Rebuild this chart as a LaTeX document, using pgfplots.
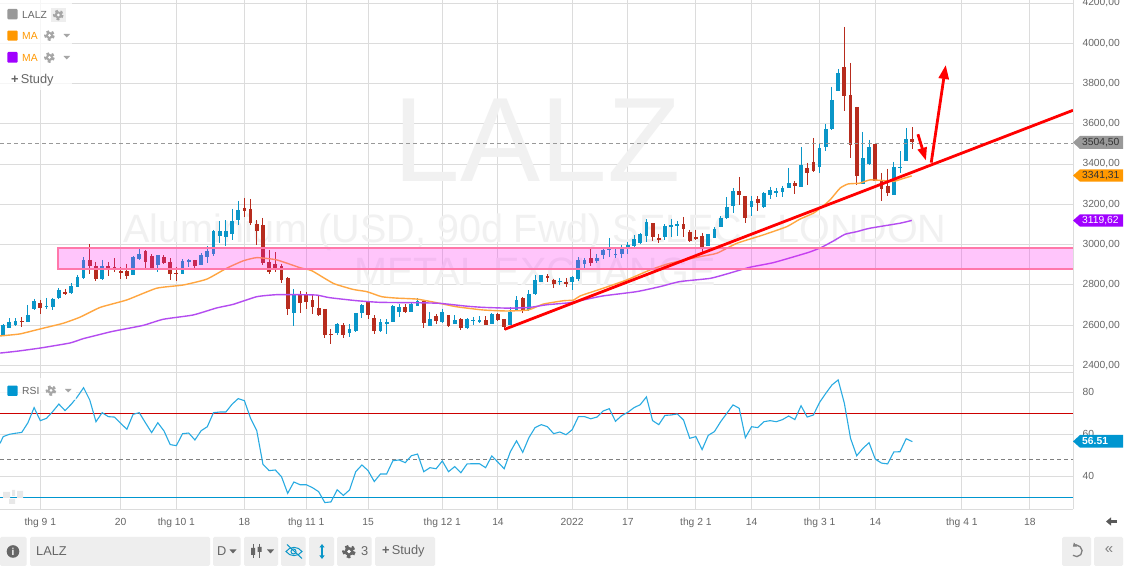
\documentclass[border=0pt]{standalone}
\usepackage{fontspec}
\setmainfont{Liberation Sans}
\usepackage{pgfplots}
\pgfplotsset{compat=1.18}
\usepackage{pgfplotstable}
\usetikzlibrary{arrows.meta}

\definecolor{gridc}{HTML}{DCDCDC}
\definecolor{txtc}{HTML}{666666}
\definecolor{upc}{HTML}{0A96C8}
\definecolor{downc}{HTML}{B72C1E}
\definecolor{maor}{HTML}{FFA640}
\definecolor{mapu}{HTML}{B44CF0}
\definecolor{boxc}{HTML}{EEEEEE}
\definecolor{rsic}{HTML}{29ABE2}
\definecolor{wmark}{HTML}{F1F1F1}
\definecolor{tagor}{HTML}{FF9800}
\definecolor{tagpu}{HTML}{A000FF}
\definecolor{tagbl}{HTML}{0096D0}
\definecolor{bandf}{HTML}{FF1BF3}
\definecolor{bandl}{HTML}{FF78AA}
\definecolor{rsired}{HTML}{CC0000}

\newcommand\fs[1]{\fontsize{#1}{#1}\selectfont}

% rising days (blue)
\pgfplotstableread{
i o h l c
-6 2549 2606 2549 2599
-5 2586 2635 2586 2616
-4 2599 2635 2596 2621
-2 2616 2700 2616 2650
-1 2680 2730 2675 2720
1 2690 2735 2680 2695
2 2690 2735 2675 2730
3 2735 2784 2730 2775
5 2760 2809 2755 2794
6 2789 2849 2789 2839
7 2834 2938 2829 2924
10 2829 2924 2824 2894
15 2849 2943 2849 2938
16 2928 2978 2924 2953
19 2899 2948 2864 2948
23 2854 2928 2854 2919
24 2914 2928 2889 2924
26 2899 2958 2899 2948
27 2938 2993 2909 2968
28 2953 3073 2943 3068
29 3043 3117 3008 3068
30 3038 3122 2993 3068
31 3053 3177 3023 3117
32 3122 3217 3097 3172
41 2660 2779 2595 2749
48 2560 2610 2550 2605
50 2560 2605 2540 2580
51 2570 2660 2565 2660
52 2660 2704 2635 2699
55 2570 2630 2565 2615
56 2605 2630 2555 2615
57 2615 2699 2615 2694
58 2665 2704 2640 2689
60 2665 2709 2665 2704
61 2694 2734 2694 2719
63 2595 2665 2595 2630
65 2615 2680 2610 2665
67 2605 2650 2605 2625
69 2585 2635 2580 2630
70 2620 2640 2600 2625
71 2615 2645 2610 2625
73 2605 2660 2605 2655
76 2600 2689 2600 2665
77 2670 2744 2670 2724
79 2675 2774 2670 2754
80 2754 2848 2749 2824
81 2814 2848 2814 2848
84 2814 2834 2799 2819
86 2814 2843 2774 2838
87 2829 2938 2819 2924
88 2904 2933 2874 2924
90 2919 2953 2909 2933
91 2948 2983 2928 2973
92 2973 3033 2938 2983
93 2948 2978 2933 2953
94 2953 2998 2933 2978
95 2986 3013 2953 2998
96 2993 3048 2983 3028
97 3008 3058 3003 3053
98 3043 3127 3013 3112
101 3038 3102 3023 3092
102 3087 3127 3038 3097
103 3092 3117 3043 3102
108 2993 3053 2993 3053
109 3033 3087 3033 3078
110 3087 3142 3087 3132
111 3132 3236 3127 3187
112 3192 3281 3157 3266
115 3187 3241 3142 3217
117 3187 3261 3182 3256
118 3246 3286 3227 3271
119 3256 3281 3236 3266
120 3261 3291 3236 3281
121 3281 3381 3281 3306
123 3286 3485 3286 3396
126 3386 3500 3356 3480
127 3485 3599 3465 3574
128 3574 3783 3570 3719
129 3763 3873 3763 3853
133 3301 3560 3301 3430
134 3401 3520 3396 3485
138 3247 3411 3247 3386
139 3380 3465 3356 3386
140 3415 3579 3415 3525
}\upbars

% falling days (red)
\pgfplotstableread{
i o h l c
-3 2620 2640 2591 2615
0 2710 2725 2655 2685
4 2765 2780 2750 2755
8 2924 3003 2854 2894
9 2894 2914 2819 2829
11 2894 2914 2844 2874
12 2889 2933 2864 2884
13 2869 2889 2829 2859
14 2869 2904 2829 2844
17 2968 2973 2874 2914
18 2943 2953 2879 2879
20 2938 2948 2904 2909
21 2914 2933 2824 2854
22 2860 2889 2819 2855
25 2924 2924 2874 2894
33 3182 3232 3137 3167
34 3177 3227 3097 3107
35 3102 3122 2998 3068
36 3097 3132 2899 2909
37 2914 2973 2854 2864
38 2904 2963 2864 2874
39 2894 2904 2809 2824
40 2834 2838 2650 2680
42 2749 2769 2660 2709
43 2749 2764 2680 2714
44 2724 2749 2655 2689
45 2684 2744 2645 2650
46 2680 2680 2535 2550
47 2555 2580 2506 2550
49 2600 2610 2535 2550
53 2714 2714 2630 2650
54 2635 2650 2555 2570
59 2689 2704 2660 2665
62 2719 2724 2585 2610
64 2645 2655 2605 2620
66 2650 2650 2590 2595
68 2630 2635 2575 2585
72 2625 2645 2600 2600
74 2655 2660 2620 2625
75 2630 2630 2575 2590
78 2734 2739 2660 2670
82 2843 2853 2814 2834
83 2824 2829 2784 2804
85 2814 2834 2789 2804
89 2933 2983 2894 2909
99 3107 3107 3018 3038
100 3033 3053 3008 3023
104 3102 3137 3038 3078
105 3063 3073 3013 3018
106 3038 3073 3023 3028
107 3043 3058 2963 2983
113 3266 3336 3197 3246
114 3241 3241 3107 3132
116 3227 3241 3167 3207
122 3306 3316 3251 3291
124 3381 3406 3296 3356
125 3411 3530 3361 3366
130 3883 4081 3664 3738
131 3743 3902 3430 3495
132 3684 3684 3296 3341
135 3500 3500 3316 3316
136 3316 3356 3217 3276
137 3291 3376 3242 3257
141 3525 3584 3475 3510
}\downbars

\pgfplotsset{
  pane/.style={
    at={(0pt,192pt)}, anchor=south west, scale only axis,
    width=1073pt, xmin=-6.516, xmax=166.97,
    xtick={0,13,22,33,43,53,65,74,86,95,106,115,126,135,149,160},
    grid=major, grid style={gridc, line width=1pt},
    major tick length=0pt,
    axis line style={draw=none},
    yticklabel pos=right,
    tick label style={text=txtc, font=\fs{10.3}},
    /pgf/number format/assume math mode=true,
  },
  wick/.style={draw=none, mark=none, forget plot,
    error bars/.cd, y dir=minus, y explicit, error mark=none,
    error bar style={line width=1pt, #1}},
  body/.style={draw=none, mark=none, forget plot,
    error bars/.cd, y dir=minus, y explicit, error mark=none,
    error bar style={line width=3.8pt, #1}},
}

\newcommand\gear[4][txtc]{% x y radius
  \fill[#1] (#2,#3) circle (#4*0.72);
  \draw[#1, line width=#4*0.5pt, dash pattern=on #4*0.55pt off #4*0.5pt] (#2,#3) circle (#4*0.82);
  \fill[white] (#2,#3) circle (#4*0.3);
}

\begin{document}
\begin{tikzpicture}
\path[use as bounding box, fill=white] (0,0) rectangle (1125pt,567pt);

% ---------- price pane
\begin{axis}[pane, height=375pt, ymin=2352, ymax=4215,
    xticklabels={},
    ytick={2400,2600,2800,3000,3200,3400,3600,3800,4000,4200},
    /pgf/number format/.cd, fixed, fixed zerofill, precision=2, use comma, 1000 sep={},
    /pgfplots/.cd,
    yticklabel style={anchor=west, xshift=6pt},
  ]
\node[text=wmark, font=\fs{120}] at (axis description cs:0.5005,0.627) {LALZ};
\node[text=wmark, font=\fs{39.5}] at (axis description cs:0.4985,0.381) {Aluminium (USD, 90d Fwd) SELECT LONDON};
\node[text=wmark, font=\fs{39.5}] at (axis description cs:0.4985,0.275) {METAL EXCHANGE};

\addplot[wick=upc] table[x=i, y=h, y error minus expr=\thisrow{h}-\thisrow{l}] {\upbars};
\addplot[body=upc] table[x=i, y=c, y error minus expr=\thisrow{c}-\thisrow{o}] {\upbars};
\addplot[wick=downc] table[x=i, y=h, y error minus expr=\thisrow{h}-\thisrow{l}] {\downbars};
\addplot[body=downc] table[x=i, y=o, y error minus expr=\thisrow{o}-\thisrow{c}] {\downbars};

% last price
\addplot[color=black!40, line width=0.9pt, dash pattern=on 4pt off 3pt] coordinates {(-6.516,3504.5) (166.97,3504.5)};

% MA orange
\addplot[maor, line width=1.4pt, smooth, tension=0.3] coordinates {
(-6.5,2546) (-3.3,2556) (0,2581) (3.7,2609) (6.4,2639) (9.7,2688) (14,2725) (18.8,2783)
(23.1,2799) (26.9,2828) (30.1,2882) (32.8,2919) (35,2935) (38.2,2924) (42,2885) (43.9,2870)
(47.4,2807) (50.6,2777) (52.8,2766) (55.2,2741) (57.6,2734) (60.9,2729) (64.1,2711) (67.3,2691)
(71.6,2675) (75.4,2670) (78.9,2675) (81.3,2704) (84.6,2721) (86.2,2724) (87.3,2745) (91,2783)
(94.8,2824) (98.6,2874) (101.8,2907) (106.7,2940) (109.4,2957) (112.6,3006) (116.9,3048)
(120.7,3089) (122.8,3126) (125,3156) (126.3,3185) (127.7,3222) (129.3,3280) (130.6,3301)
(132.5,3305) (134.1,3321) (136.3,3318) (137.9,3313) (139.3,3326) (140.9,3341)};
% MA purple
\addplot[mapu, line width=1.4pt, smooth, tension=0.3] coordinates {
(-6.5,2461) (-3.8,2470) (0,2486) (4.8,2511) (7,2533) (11.3,2566) (13.4,2579) (16.7,2599)
(19.9,2629) (24.7,2650) (28.5,2685) (31.2,2703) (35,2741) (38.2,2751) (42,2751) (44.7,2749)
(46.8,2736) (51.2,2721) (54.9,2713) (60.9,2711) (64.6,2708) (68.9,2694) (71.6,2688) (75.9,2684)
(79.2,2688) (81.9,2701) (85.6,2711) (88.3,2728) (91,2745) (96.4,2766) (100.2,2791) (103.4,2816)
(108.3,2832) (111,2854) (114.7,2887) (118.5,2910) (122.8,2948) (124.5,2964) (126.3,2986)
(128.3,3019) (130.1,3051) (132,3064) (134.1,3081) (139,3106) (140.9,3120)};

% support band
\addplot[draw=none, fill=bandf, fill opacity=0.25] coordinates {(2.86,2877) (166.97,2877) (166.97,2981) (2.86,2981)} --cycle;
\addplot[bandl, line width=2pt] coordinates {(166.97,2877) (2.86,2877) (2.86,2981) (166.97,2981)};

% trend line and arrows
\addplot[red, line width=2.8pt] coordinates {(75.08,2579) (166.97,3667)};
\addplot[red, line width=2.8pt, -{Triangle[width=10pt,length=14pt]}] coordinates {(144.05,3407) (146.4,3892)};
\addplot[red, line width=2.8pt, -{Triangle[width=9pt,length=13pt]}] coordinates {(141.9,3548) (143.2,3417)};
\end{axis}

% ---------- RSI pane
\begin{axis}[pane, at={(0pt,57.7pt)}, height=134.3pt, ymin=24.29, ymax=88.24,
    xticklabels={thg 9 1,20,thg 10 1,18,thg 11 1,15,thg 12 1,14,2022,17,thg 2 1,14,thg 3 1,14,thg 4 1,18},
    xticklabel style={anchor=base, yshift=-16pt},
    ytick={40,60,80},
    yticklabel style={anchor=west, xshift=6pt, /pgf/number format/.cd, fixed, precision=0},
  ]
\addplot[rsired, line width=1pt] coordinates {(-6.516,70) (166.97,70)};
\addplot[tagbl, line width=1pt] coordinates {(-6.516,30) (166.97,30)};
\addplot[color=black!50, line width=0.9pt, dash pattern=on 4pt off 3pt] coordinates {(-6.516,48.1) (166.97,48.1)};
\addplot[rsic, line width=1.1pt] table[x=i, y=r] {
i r
-6.5 55.7
-6 58.9
-5 60.0
-4 60.5
-3 60.9
-2 65.5
-1 72.7
0 66.5
1 67.6
2 70.8
3 74.4
4 71.3
5 74.3
6 77.9
7 82.2
8 76.3
9 66.0
10 70.3
11 68.4
12 68.2
13 65.2
14 62.4
15 69.5
16 70.3
17 65.5
18 60.8
19 65.5
20 61.6
21 55.1
22 54.6
23 60.3
24 60.6
25 57.3
26 61.7
27 63.6
28 70.3
29 70.6
30 70.6
31 74.3
32 77.0
33 76.0
34 67.6
35 61.7
36 45.7
37 42.7
38 43.0
39 39.8
40 31.9
41 37.3
42 36.0
43 36.0
44 34.6
45 32.7
46 27.5
47 27.8
48 33.6
49 30.9
50 33.5
51 42.2
52 45.4
53 42.7
54 37.5
55 41.1
56 41.1
57 47.4
58 47.8
59 46.5
60 49.8
61 50.6
62 42.2
63 44.1
64 43.6
65 47.3
66 42.2
67 44.6
68 41.7
69 45.9
70 46.0
71 46.0
72 44.1
73 49.7
74 46.7
75 43.6
76 51.7
77 56.9
78 51.4
79 58.4
80 63.2
81 64.6
82 63.6
83 60.3
84 61.1
85 59.8
86 62.2
87 68.4
88 68.4
89 67.4
90 68.2
91 71.1
92 72.2
93 66.2
94 68.9
95 70.5
96 72.7
97 74.1
98 77.8
99 66.5
100 64.6
101 69.0
102 69.2
103 69.7
104 66.8
105 58.1
106 58.9
107 52.7
108 59.5
109 61.3
110 66.0
111 70.0
112 74.0
113 72.4
114 58.4
115 63.6
116 63.2
117 66.0
118 66.5
119 66.0
120 67.0
121 68.7
122 67.0
123 73.6
124 68.2
125 69.2
126 75.2
127 79.5
128 83.5
129 85.9
130 74.8
131 58.1
132 49.8
133 53.3
134 56.0
135 48.2
136 46.3
137 45.9
138 51.6
139 51.7
140 57.9
141 56.5
};
\end{axis}

% ---------- screen furniture, in pixels from the top left
\begin{scope}[x=1pt, y=-1pt, yshift=567pt]
\draw[gridc, line width=1pt] (1073,0) -- (1073,509.3);
\draw[gridc, line width=1pt] (0,509.3) -- (1073,509.3);
\draw[gridc, line width=1pt] (0,372.5) -- (1073,372.5);

% price tags
\fill[black!40] (1073,142.5) -- (1080,136) -- (1123,136) -- (1123,149) -- (1080,149) -- cycle;
\node[anchor=west, inner sep=0, text=black!80, font=\fs{10.3}] at (1082,142.5) {3504,50};
\fill[tagor] (1073,175.5) -- (1080,169.3) -- (1123,169.3) -- (1123,181.7) -- (1080,181.7) -- cycle;
\node[anchor=west, inner sep=0, text=black!80, font=\fs{10.3}] at (1082,175.5) {3341,31};
\fill[tagpu] (1073,220.5) -- (1080,214.3) -- (1123,214.3) -- (1123,226.7) -- (1080,226.7) -- cycle;
\node[anchor=west, inner sep=0, text=white, font=\fs{10.3}] at (1082,220.5) {3119,62};
\fill[tagbl] (1073,441.4) -- (1080,435) -- (1123,435) -- (1123,447.7) -- (1080,447.7) -- cycle;
\node[anchor=west, inner sep=0, text=white, font=\bfseries\fs{10.3}] at (1082,441.4) {56.51};

% legend
\fill[white, opacity=0.75] (0,0) rectangle (72,90);
\fill[black!40, rounded corners=1pt] (7.3,9) rectangle (17.7,19.3);
\node[anchor=west, inner sep=0, text=txtc, font=\fs{10.3}] at (22,14.5) {LALZ};
\fill[boxc] (51,8) rectangle (66,22);
\gear[black!35]{58.3}{15}{5}
\fill[tagor, rounded corners=1pt] (7.3,30.7) rectangle (17.7,40.7);
\node[anchor=west, inner sep=0, text=tagor, font=\fs{10.3}] at (22,36) {MA};
\gear[black!35]{49.5}{35.5}{5}
\fill[black!35] (63.5,34) -- (70,34) -- (66.7,37.5) -- cycle;
\fill[tagpu, rounded corners=1pt] (7.3,52) rectangle (17.7,62.7);
\node[anchor=west, inner sep=0, text=tagor, font=\fs{10.3}] at (22,58) {MA};
\gear[black!35]{49.5}{57.5}{5}
\fill[black!35] (63.5,56) -- (70,56) -- (66.7,59.5) -- cycle;
\node[anchor=west, inner sep=0, text=txtc, font=\fs{12.8}] at (11,80) {\textbf{+}\,Study};

% RSI legend
\fill[white, opacity=0.75] (0,378) rectangle (76,400);
\fill[tagbl, rounded corners=1pt] (7.3,385.7) rectangle (17.7,396);
\node[anchor=west, inner sep=0, text=txtc, font=\fs{10.3}] at (22,391) {RSI};
\gear[black!35]{51}{390.5}{5}
\fill[black!35] (65,389) -- (71.5,389) -- (68.2,392.5) -- cycle;

% faint logo
\fill[black!9] (3,492) rectangle (10,498) (12,490) rectangle (15,496) (17,491) rectangle (23,498) (9,499) rectangle (15,504);

% back arrow
\draw[black!65, line width=2.4pt, -{Triangle[width=8pt,length=5pt]}] (1117,521.5) -- (1106,521.5);

% toolbar
\foreach \a/\b in {0/26.7,30/210,213/240.7,244/278,281/305.7,309/334,337/371.7,375/435,1062/1091,1094/1123}
  \fill[boxc, rounded corners=1.5pt] (\a,537) rectangle (\b,566);
\fill[black!60] (13,551.5) circle (6.3);
\node[inner sep=0, text=white, font=\bfseries\fs{10}] at (13,551.5) {i};
\node[anchor=west, inner sep=0, text=txtc, font=\fs{12.8}] at (36,551.5) {LALZ};
\node[anchor=west, inner sep=0, text=txtc, font=\fs{12.8}] at (217,551.5) {D};
\fill[txtc] (229.5,549.5) -- (236.5,549.5) -- (233,553.5) -- cycle;
\draw[txtc, line width=1pt] (253,544) -- (253,558) (259.5,544) -- (259.5,558);
\fill[txtc] (251,548) rectangle (255,555) (257.5,547) rectangle (261.5,552);
\fill[txtc] (267,549.5) -- (274,549.5) -- (270.5,553.5) -- cycle;
\draw[upc, line width=1pt] (286,551.5) .. controls (290,546) and (298,546) .. (302,551.5) .. controls (298,557) and (290,557) .. cycle;
\draw[upc, line width=1pt] (293.5,551.5) circle (2.5);
\draw[upc, line width=1pt] (287,544.5) -- (302,558.5);
\draw[upc, line width=1.4pt, {Triangle[width=5pt,length=3.5pt]}-{Triangle[width=5pt,length=3.5pt]}] (322,544) -- (322,559);
\gear{349}{551.5}{6.3}
\node[anchor=west, inner sep=0, text=txtc, font=\fs{12.8}] at (361,551.5) {3};
\node[anchor=west, inner sep=0, text=txtc, font=\fs{12.8}] at (382,551.5) {\textbf{+}\,Study};
\draw[black!50, line width=1.3pt, -{Triangle[width=5pt,length=3.5pt]}] (1072.9,555.3) arc[start angle=130, end angle=-130, radius=5.6];
\node[inner sep=0, text=black!50, font=\fs{15}] at (1109,550.5) {«};
\end{scope}
\end{tikzpicture}
\end{document}
